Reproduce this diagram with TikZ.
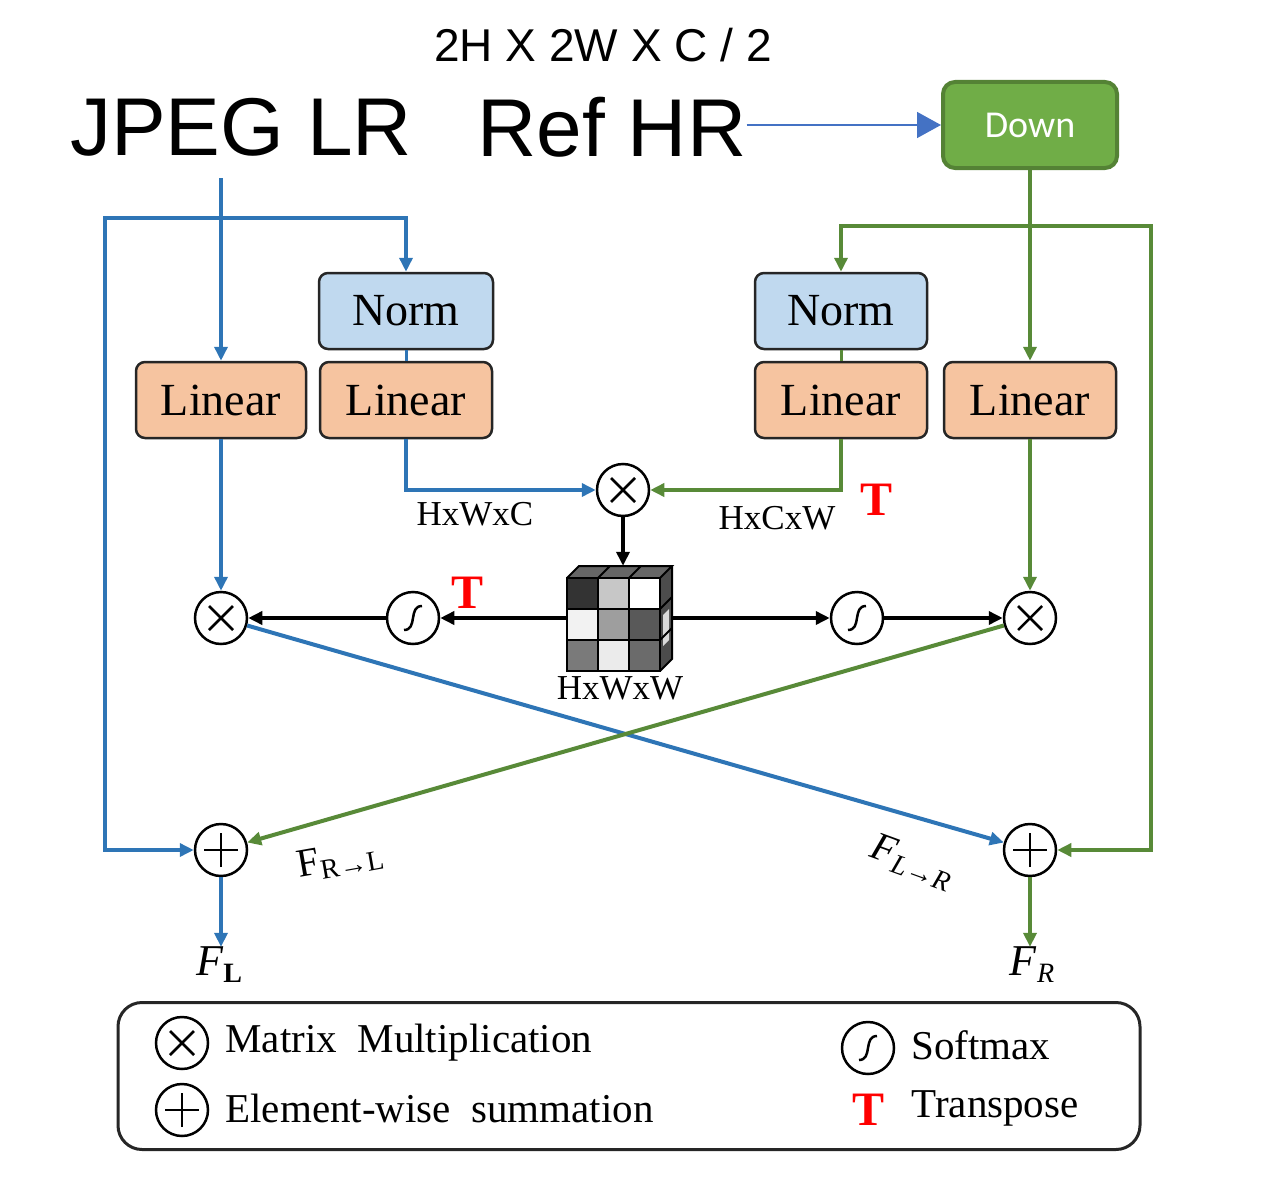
\documentclass[tikz,border=0pt]{standalone}
\usepackage{fontspec}
\setmainfont{Liberation Serif}
\newfontfamily\arialfont{Liberation Sans}
\newfontfamily\calibrifont{Carlito}
\usetikzlibrary{arrows.meta,positioning}

\definecolor{lineblue}{RGB}{46,117,182}
\definecolor{linegreen}{RGB}{88,138,56}
\definecolor{refblue}{RGB}{68,114,196}
\definecolor{normblue}{RGB}{192,217,239}
\definecolor{linpeach}{RGB}{246,196,160}
\definecolor{downfill}{RGB}{112,173,71}
\definecolor{downedge}{RGB}{84,130,53}

\newcommand{\subtxt}[1]{\raisebox{-0.35ex}{\fontsize{28}{30}\selectfont #1}}

\tikzset{
    box/.style={draw=black!85,line width=2.5pt,rounded corners=9pt,inner sep=0pt,
        minimum height=76pt,font=\fontsize{46}{50}\selectfont},
    normbox/.style={box,fill=normblue,minimum width=174pt},
    linbox/.style={box,fill=linpeach,minimum width=172pt},
    op/.style={circle,draw=black,line width=2.5pt,minimum size=52pt,inner sep=0pt,fill=white},
    mult/.style={op,path picture={
        \draw[line width=2.5pt] ([shift={(-12pt,-12pt)}]path picture bounding box.center)
            -- ([shift={(12pt,12pt)}]path picture bounding box.center);
        \draw[line width=2.5pt] ([shift={(-12pt,12pt)}]path picture bounding box.center)
            -- ([shift={(12pt,-12pt)}]path picture bounding box.center);}},
    plus/.style={op,path picture={
        \draw[line width=2.5pt] ([shift={(-17pt,0pt)}]path picture bounding box.center)
            -- ([shift={(17pt,0pt)}]path picture bounding box.center);
        \draw[line width=2.5pt] ([shift={(0pt,-17pt)}]path picture bounding box.center)
            -- ([shift={(0pt,17pt)}]path picture bounding box.center);}},
    smax/.style={op,path picture={
        \draw[line width=2.5pt] ([shift={(-9pt,-12pt)}]path picture bounding box.center)
            .. controls ([shift={(5pt,-12pt)}]path picture bounding box.center)
            and ([shift={(-5pt,12pt)}]path picture bounding box.center)
            .. ([shift={(9pt,12pt)}]path picture bounding box.center);}},
    tee/.style={text=red,font=\fontsize{48}{50}\selectfont\bfseries},
    dimlabel/.style={font=\fontsize{35}{40}\selectfont},
    flabel/.style={inner sep=0pt,font=\fontsize{40}{44}\selectfont},
    keytext/.style={anchor=west,font=\fontsize{41}{46}\selectfont},
    bl/.style={draw=lineblue,line width=4pt,-{Triangle[length=14pt,width=13pt]}},
    gr/.style={draw=linegreen,line width=4pt,-{Triangle[length=14pt,width=13pt]}},
    bk/.style={draw=black,line width=3.5pt,-{Triangle[length=14pt,width=13pt]}}
}

\begin{document}
\begin{tikzpicture}[x=1pt,y=-1pt]
    \useasboundingbox (0,0) rectangle (1266,1180);

    % inputs
    \node[font=\arialfont\fontsize{46}{50}\selectfont] (size) at (603,45) {2H X 2W X C / 2};
    \node[font=\arialfont\fontsize{82}{90}\selectfont,inner sep=0pt] (jpeg) at (241,127) {JPEG LR};
    \node[font=\arialfont\fontsize{82}{90}\selectfont,inner sep=0pt] (ref) at (612,127) {Ref HR};
    \node[draw=downedge,fill=downfill,line width=4pt,rounded corners=12pt,
        minimum width=174pt,minimum height=86pt,inner sep=0pt,text=white,
        font=\calibrifont\fontsize{38}{40}\selectfont] (down) at (1030,125) {Down};
    \draw[draw=refblue,line width=1.5pt,-{Triangle[length=24pt,width=26pt]}]
        (ref.east |- down.west) -- (down.west);

    % boxes
    \node[normbox] (normL) at (406,311) {Norm};
    \node[linbox]  (linL2) at (406,400) {Linear};
    \node[linbox,minimum width=170pt] (linL1) at (221,400) {Linear};
    \node[normbox,minimum width=172pt] (normR) at (841,311) {Norm};
    \node[linbox]  (linR1) at (841,400) {Linear};
    \node[linbox]  (linR2) at (1030,400) {Linear};

    % operators
    \node[mult] (mulC) at (623,490) {};
    \node[mult] (mulL) at (221,618) {};
    \node[mult] (mulR) at (1030,618) {};
    \node[smax] (smL) at (413,618) {};
    \node[smax] (smR) at (857,618) {};
    \node[plus] (plusL) at (221,850) {};
    \node[plus] (plusR) at (1030,850) {};
    \node[inner sep=0pt,minimum width=106pt,minimum height=104pt] (cube) at (620,618) {};

    % cube
    \fill[black!60] (567,578) -- (579,566) -- (672,566) -- (660,578) -- cycle;
    \fill[black!70] (660,578) -- (672,566) -- (672,659) -- (660,671) -- cycle;
    \fill[black!15] (663,615) -- (669,609) -- (669,640) -- (663,646) -- cycle;
    \foreach \c/\r/\g in {0/0/80,1/0/22,2/0/0,0/1/5,1/1/38,2/1/65,0/2/52,1/2/8,2/2/58}
        \fill[black!\g] (567+31*\c,578+31*\r) rectangle ++(31,31);
    \draw[line width=2.5pt] (567,578) rectangle (660,671);
    \draw[line width=2pt] (598,578) -- (598,671) (629,578) -- (629,671)
        (567,609) -- (660,609) (567,640) -- (660,640);
    \draw[line width=2pt] (567,578) -- (579,566) -- (672,566) -- (660,578)
        (672,566) -- (672,659) -- (660,671)
        (598,578) -- (610,566) (629,578) -- (641,566)
        (660,609) -- (672,597) (660,640) -- (672,628);

    % left branch
    \coordinate (lstart) at (221,178);
    \coordinate (lsplit) at (221,218);
    \coordinate (lfar) at (105,218);
    \draw[bl] (lstart) -- (linL1.north);
    \draw[bl] (lsplit) -| (normL.north);
    \draw[bl] (lsplit) -- (lfar) |- (plusL.west);
    \draw[draw=lineblue,line width=3pt] (normL.south) -- (linL2.north);

    % right branch
    \coordinate (rsplit) at (1030,226);
    \coordinate (rfar) at (1151,226);
    \draw[gr] (down.south) -- (linR2.north);
    \draw[gr] (rsplit) -| (normR.north);
    \draw[gr] (rsplit) -- (rfar) |- (plusR.east);
    \draw[draw=linegreen,line width=3pt] (normR.south) -- (linR1.north);

    % attention
    \draw[bl] (linL2.south) |- (mulC.west);
    \draw[gr] (linR1.south) |- (mulC.east);
    \node[dimlabel] (dimC) at (475,514) {HxWxC};
    \node[dimlabel] (dimT) at (777,518) {HxCxW};
    \node[tee] (teeC) at (876,500) {T};
    \draw[bk] (mulC.south) -- (mulC.south |- cube.north);
    \node[dimlabel] (dimW) at (620,688) {HxWxW};
    \draw[bk] (cube.west) -- (smL.east);
    \node[tee] (teeL) at (468,593) {T};
    \draw[bk] (smL.west) -- (mulL.east);
    \draw[bk] (cube.east) -- (smR.west);
    \draw[bk] (smR.east) -- (mulR.west);
    \draw[bl] (linL1.south) -- (mulL.north);
    \draw[gr] (linR2.south) -- (mulR.north);

    % cross fusion
    \draw[bl] (mulL) -- (plusR);
    \draw[gr] (mulR) -- (plusL);
    \node[flabel,rotate=10] (frl) at (340,860) {F\subtxt{R→L}};
    \node[flabel,rotate=-20] (flr) at (912,862) {\textit{F}\subtxt{\textit{L→R}}};
    \node[flabel,font=\fontsize{44}{48}\selectfont] (outL) at (219,965) {\textit{F}\subtxt{\textbf{L}}};
    \node[flabel,font=\fontsize{44}{48}\selectfont] (outR) at (1032,965) {\textit{F}\subtxt{\textit{R}}};
    \draw[bl] (plusL.south) -- (plusL.south |- outL.north);
    \draw[gr] (plusR.south) -- (plusR.south |- outR.north);

    % legend
    \node[draw=black!85,line width=3pt,rounded corners=24pt,minimum width=1022pt,
        minimum height=147pt] (legend) at (629,1076) {};
    \node[mult] (kmul) at (182,1043) {};
    \node[keytext] (kmulT) at (222,1043) {Matrix\ \ Multiplication};
    \node[plus] (kplus) at (182,1110) {};
    \node[keytext] (kplusT) at (222,1108) {Element-wise\ \ summation};
    \node[smax] (ksm) at (868,1048) {};
    \node[keytext] (ksmT) at (908,1045) {Softmax};
    \node[tee] (kT) at (868,1110) {T};
    \node[keytext] (kTT) at (908,1108) {Transpose};
\end{tikzpicture}
\end{document}
